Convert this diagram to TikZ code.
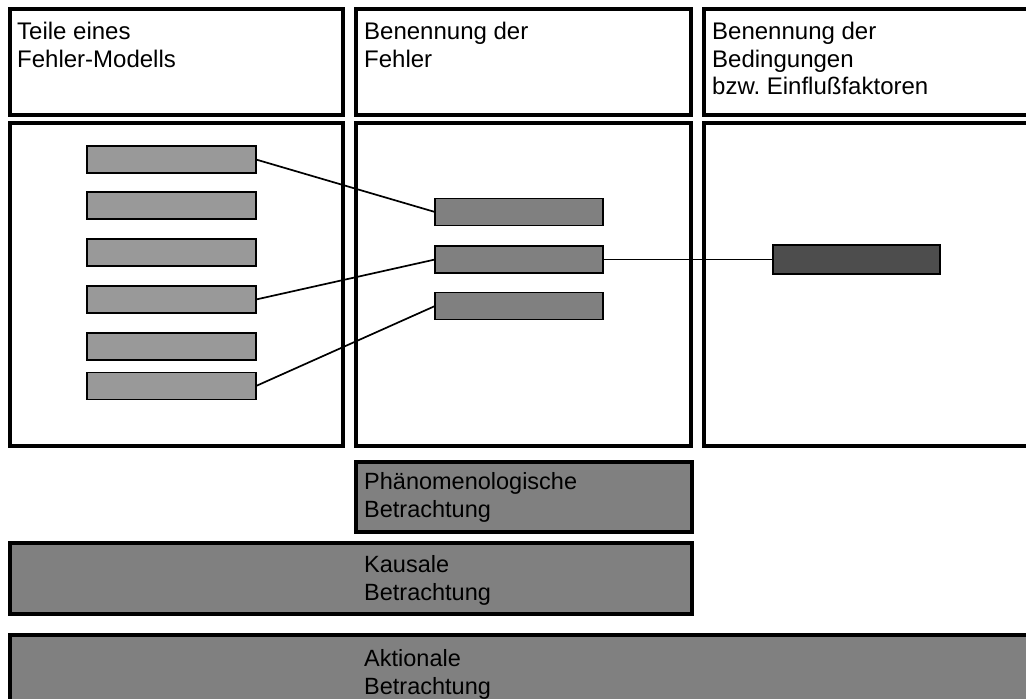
\documentclass[tikz,border=0pt]{standalone}
\usepackage{fontspec}
\setmainfont{Liberation Sans}
\frenchspacing
\begin{document}
\begin{tikzpicture}[x=1pt,y=-1pt,
  frame/.style={draw=black,line width=3.5pt,fill=white},
  band/.style={draw=black,line width=3.5pt,fill=gray50},
  part/.style={draw=black,line width=1.8pt,fill=gray60,inner sep=0pt,outer sep=0pt,
    minimum width=169pt,minimum height=27pt},
  fault/.style={part,fill=gray50,minimum width=168pt},
  cond/.style={part,fill=gray30,minimum width=167pt,minimum height=29pt},
  link/.style={draw=black,line width=1.7pt},
  head/.style={anchor=north west,inner sep=0pt,align=left,
    font={\fontsize{24}{27.5}\selectfont}},
  label/.style={anchor=north west,inner sep=0pt,align=left,
    font={\fontsize{23.5}{28}\selectfont}}]
\definecolor{gray60}{HTML}{999999}
\definecolor{gray50}{HTML}{808080}
\definecolor{gray30}{HTML}{4D4D4D}
\useasboundingbox (0,0) rectangle (1026,699);
\clip (0,0) rectangle (1026,699);
\fill[white] (0,0) rectangle (1026,699);

% column headers and bodies
\draw[frame] (10,9) rectangle (343,115);
\draw[frame] (356,9) rectangle (691,115);
\draw[frame] (704,9) rectangle (1040,115);
\draw[frame] (10,123) rectangle (343,446);
\draw[frame] (356,123) rectangle (691,446);
\draw[frame] (704,123) rectangle (1040,446);

\node[head] (t1) at (17,22) {Teile eines\\Fehler-Modells};
\node[head] (t2) at (364,22) {Benennung der\\Fehler};
\node[head] (t3) at (712,22) {Benennung der\\Bedingungen\\bzw. Einflußfaktoren};

% model parts
\node[part] (p1) at (171.5,159.5) {};
\node[part] (p2) at (171.5,205.5) {};
\node[part] (p3) at (171.5,252.5) {};
\node[part] (p4) at (171.5,299.5) {};
\node[part] (p5) at (171.5,346.5) {};
\node[part] (p6) at (171.5,386) {};

% faults
\node[fault] (f1) at (519,212) {};
\node[fault] (f2) at (519,259.5) {};
\node[fault] (f3) at (519,306) {};

% condition
\node[cond] (c1) at (856.5,259.5) {};

\draw[link] (p1.east) -- (f1.west);
\draw[link] (p4.east) -- (f2.west);
\draw[link] (p6.east) -- (f3.west);
\draw[link] (f2.east) -- (c1.west);

% levels of analysis
\draw[band] (356,462) rectangle (692,532);
\draw[band] (10,543) rectangle (692,614);
\draw[band] (10,635) rectangle (1040,720);

\node[label] (b1) at (364,472.5) {Phänomenologische\\Betrachtung};
\node[label] (b2) at (364,555.5) {Kausale\\Betrachtung};
\node[label] (b3) at (364,649.5) {Aktionale\\Betrachtung};
\end{tikzpicture}
\end{document}
